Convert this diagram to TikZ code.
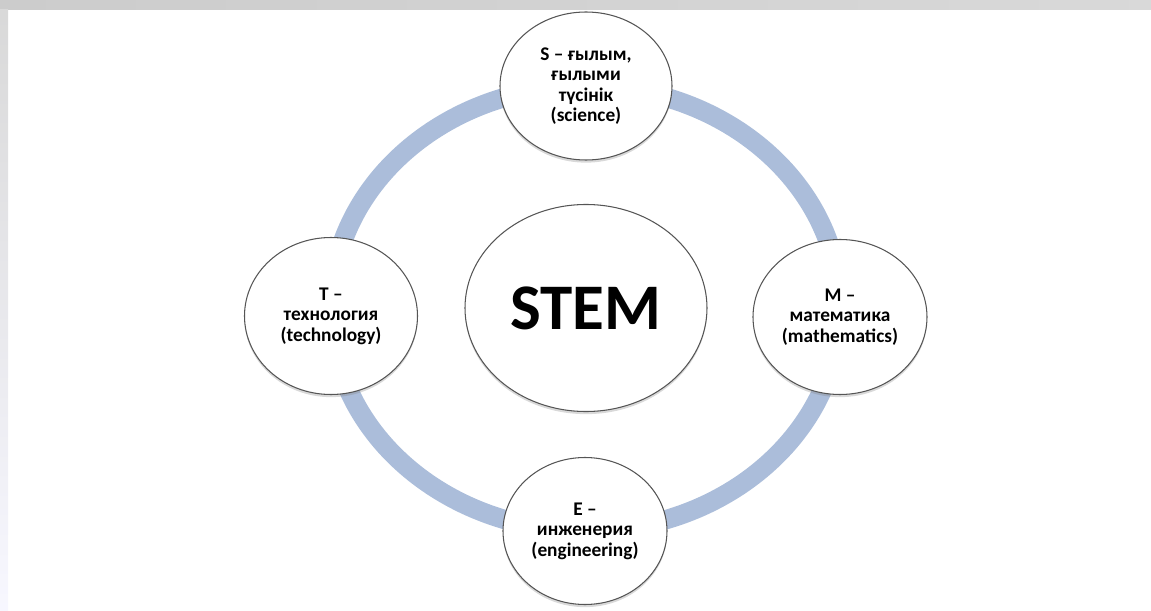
\documentclass[tikz,border=0pt]{standalone}
\usepackage{fontspec}
\setmainfont{Carlito}
\usetikzlibrary{shapes.geometric,shadows}
\definecolor{ringblue}{RGB}{171,189,218}
\definecolor{edgegray}{RGB}{85,85,85}
\begin{document}
\begin{tikzpicture}[ring/.style={draw=ringblue,line width=11pt},
  part node/.style={ellipse,draw=edgegray,line width=0.6pt,fill=white,inner sep=0pt,align=center,
    drop shadow={shadow xshift=0pt,shadow yshift=-1.5pt,opacity=0.3}}]%
\useasboundingbox (0,0) rectangle (23.02,12.2);
% frame of the slide
\shade[left color=gray!40,right color=gray!30] (0,12.0) rectangle (23.02,12.2);
\shade[top color=gray!30,bottom color=blue!3!white] (0,0) rectangle (0.16,12.0);
\coordinate (mid) at (11.71,6.03);
\draw[ring] (mid) ellipse [x radius=5.09cm, y radius=4.45cm];
\begin{scope}[every node/.style={font=\bfseries\fontsize{11}{11.6}\selectfont}]
\node[part node,minimum width=3.44cm,minimum height=2.96cm] (sci) at (11.72,10.48) {S – ғылым,\\ғылыми\\түсінік\\(science)};
\node[part node,minimum width=3.46cm,minimum height=3.14cm] (tech) at (6.62,5.88) {T –\\технология\\(technology)};
\node[part node,minimum width=3.48cm,minimum height=3.1cm] (math) at (16.8,5.86) {M –\\математика\\(mathematics)};
\node[part node,minimum width=3.28cm,minimum height=2.94cm] (eng) at (11.7,1.58) {E –\\инженерия\\(engineering)};
\end{scope}
\begin{scope}[every node/.style={font=\bfseries\fontsize{37}{42}\selectfont}]
\node[part node,minimum width=4.84cm,minimum height=4.14cm] (stem) at (11.72,6.04) {STEM};
\end{scope}
\end{tikzpicture}
\end{document}
